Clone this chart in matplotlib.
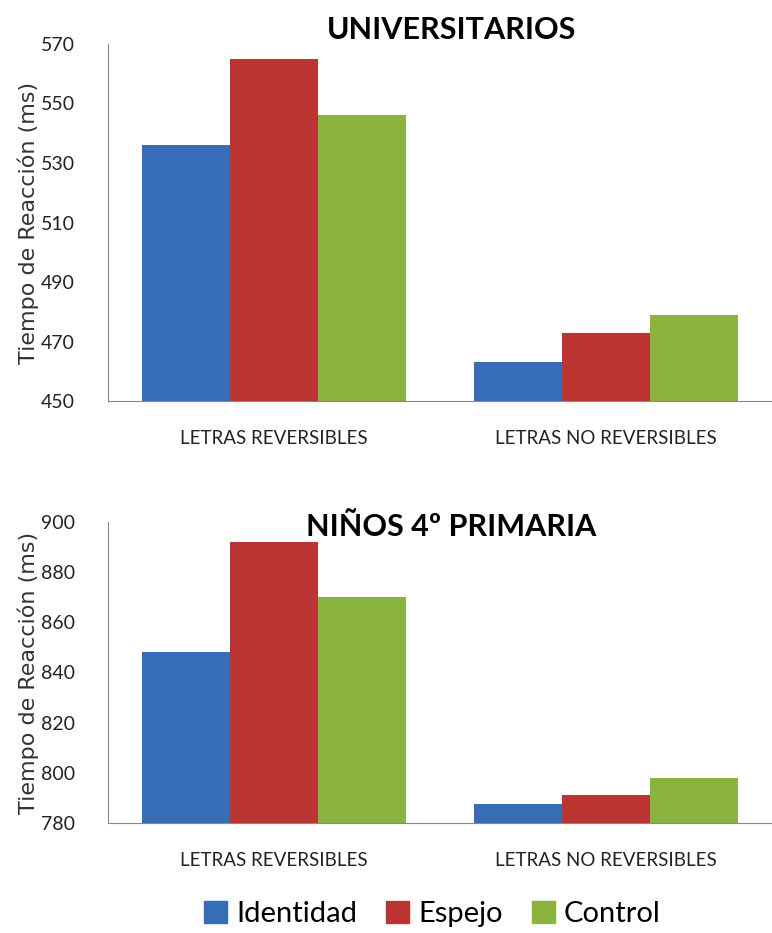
import numpy as np
import matplotlib.pyplot as plt
from matplotlib.patches import Patch

plt.rcParams['font.family'] = ['Lato', 'DejaVu Sans']

categorias = ['LETRAS REVERSIBLES', 'LETRAS NO REVERSIBLES']
series = ['Identidad', 'Espejo', 'Control']
colores = ['#376cb6', '#bb3431', '#8ab43e']

# tiempos de reaccion (ms)
univ_identidad = [536, 463]
univ_espejo = [565, 473]
univ_control = [546, 479]

ninos_identidad = [848, 787.5]
ninos_espejo = [892, 791]
ninos_control = [870, 798]

fig = plt.figure(figsize=(7.72, 9.33), dpi=100)
ax1 = fig.add_axes([0.140, 0.570, 0.860, 0.383])
ax2 = fig.add_axes([0.140, 0.118, 0.860, 0.3225])

def grafico(ax, datos, ymin, ymax, paso, titulo, ytit):
    x = np.arange(len(categorias))
    w = 0.265
    for i, vals in enumerate(datos):
        ax.bar(x + (i - 1) * w, np.array(vals) - ymin, w, bottom=ymin,
               color=colores[i], edgecolor='none')
    ax.set_xlim(-0.5, 1.5)
    ax.set_ylim(ymin, ymax)
    ax.set_yticks(np.arange(ymin, ymax + 1, paso))
    ax.set_xticks(x)
    ax.set_xticklabels(categorias, fontsize=13.5, color='#222222')
    ax.tick_params(axis='both', length=0)
    ax.tick_params(axis='y', labelsize=14, pad=24, colors='#222222')
    ax.tick_params(axis='x', pad=21)
    for s in ['top', 'right']:
        ax.spines[s].set_visible(False)
    ax.spines['left'].set_color('#888888')
    ax.spines['bottom'].set_color('#888888')
    ax.set_ylabel('Tiempo de Reacción (ms)', fontsize=16, color='#333333',
                  labelpad=1, family='DejaVu Sans')
    fig.text(0.585, ytit, titulo, ha='center', va='center', fontsize=22, fontweight='bold')

grafico(ax1, [univ_identidad, univ_espejo, univ_control], 450, 570, 20,
        'UNIVERSITARIOS', 1 - 30 / 933)
grafico(ax2, [ninos_identidad, ninos_espejo, ninos_control], 780, 900, 20,
        'NIÑOS 4º PRIMARIA', 1 - 527 / 933)

handles = [Patch(color=c) for c in colores]
fig.legend(handles, series, loc='center', bbox_to_anchor=(0.56, 1 - 914 / 933),
           ncol=3, frameon=False, fontsize=21, handlelength=0.8, handleheight=0.8,
           handletextpad=0.3, columnspacing=1.0)

plt.savefig('out.png', dpi=100)
